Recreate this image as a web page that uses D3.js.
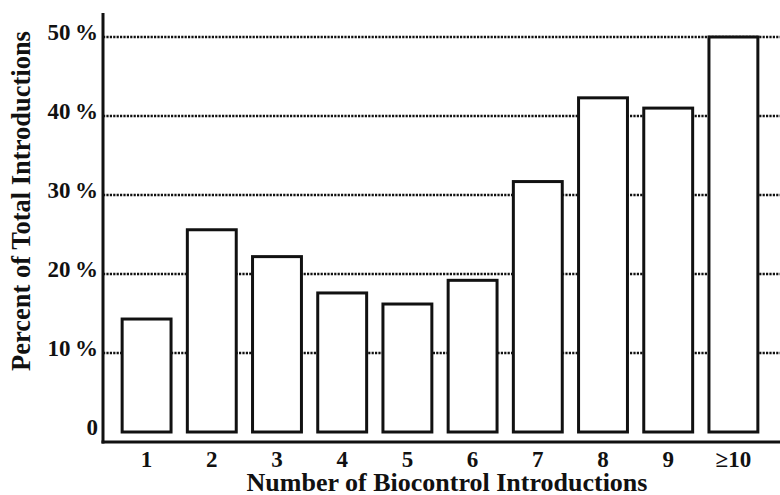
<!DOCTYPE html>
<html>
<head>
<meta charset="utf-8">
<script src="https://cdn.jsdelivr.net/npm/d3@7"></script>
<style>
  html, body { margin: 0; padding: 0; background: #fff; }
  svg { display: block; }
  text { font-family: "Liberation Serif", "Times New Roman", serif; font-weight: bold; fill: #111; }
</style>
</head>
<body>
<svg id="chart" width="780" height="495"></svg>
<script>
const categories = ["1", "2", "3", "4", "5", "6", "7", "8", "9", "\u226510"];
const percentValues = [14.3, 25.6, 22.2, 17.6, 16.2, 19.2, 31.7, 42.3, 41.0, 50.0];
const yTicks = [0, 10, 20, 30, 40, 50];
const yTickLabels = ["0", "10\u2009%", "20\u2009%", "30\u2009%", "40\u2009%", "50\u2009%"];
const xTitle = "Number of Biocontrol Introductions";
const yTitle = "Percent of Total Introductions";

(function () {
const svg = d3.select("#chart");
const mLeft = 103, mRight = 780, mTop = 13, axisY = 442;

const x = d3.scaleBand().domain(categories).range([106, 774]).paddingInner(0.25).paddingOuter(0.2475);
const y = d3.scaleLinear().domain([0, 50]).range([432, 37]);

// gridlines
svg.append("g").selectAll("line").data(yTicks.filter(d => d > 0)).join("line")
  .attr("x1", mLeft).attr("x2", mRight)
  .attr("y1", d => y(d)).attr("y2", d => y(d))
  .attr("stroke", "#111").attr("stroke-width", 2.6)
  .attr("stroke-dasharray", "2.2,1.2");

// bars
svg.append("g").selectAll("rect").data(percentValues).join("rect")
  .attr("x", (d, i) => x(categories[i]))
  .attr("width", x.bandwidth())
  .attr("y", d => y(d))
  .attr("height", d => y(0) - y(d))
  .attr("fill", "#fff").attr("stroke", "#111").attr("stroke-width", 3);

// axes lines
svg.append("line").attr("x1", mLeft).attr("x2", mLeft).attr("y1", mTop).attr("y2", axisY + 1.5)
  .attr("stroke", "#111").attr("stroke-width", 3);
svg.append("line").attr("x1", mLeft - 1.5).attr("x2", mRight).attr("y1", axisY).attr("y2", axisY)
  .attr("stroke", "#111").attr("stroke-width", 3);

// y tick labels
svg.append("g").selectAll("text").data(yTicks).join("text")
  .attr("x", mLeft - 5).attr("y", d => y(d) + 3)
  .attr("text-anchor", "end").attr("font-size", 23)
  .text((d, i) => yTickLabels[i]);

// x tick labels
svg.append("g").selectAll("text").data(categories).join("text")
  .attr("x", d => x(d) + x.bandwidth() / 2).attr("y", 467)
  .attr("text-anchor", "middle").attr("font-size", 23)
  .text(d => d);

// titles
svg.append("text").attr("x", 447).attr("y", 491).attr("text-anchor", "middle")
  .attr("font-size", 26).text(xTitle);
svg.append("text").attr("transform", "translate(30,201) rotate(-90)").attr("text-anchor", "middle")
  .attr("font-size", 26.5).text(yTitle);
})();
</script>
</body>
</html>
